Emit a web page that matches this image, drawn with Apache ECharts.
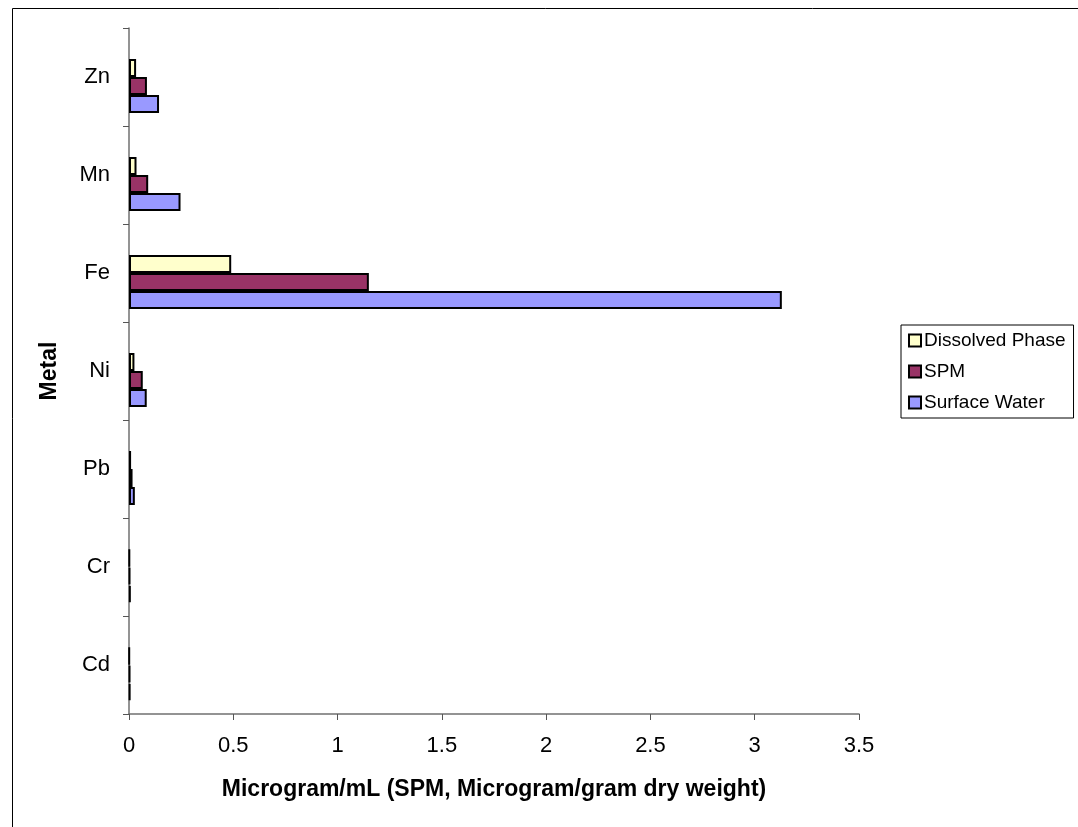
<!DOCTYPE html>
<html>
<head>
<meta charset="utf-8">
<script src="https://cdn.jsdelivr.net/npm/echarts@6/dist/echarts.min.js"></script>
<style>html,body{margin:0;padding:0;background:#fff;}#c{width:1078px;height:827px;}</style>
</head>
<body>
<div id="c"></div>
<script>
const categories = ['Cd', 'Cr', 'Pb', 'Ni', 'Fe', 'Mn', 'Zn'];
const dissolvedPhase = [0.002, 0.003, 0.010, 0.026, 0.490, 0.036, 0.034];
const spm = [0.005, 0.005, 0.017, 0.066, 1.150, 0.092, 0.086];
const surfaceWater = [0.006, 0.008, 0.028, 0.085, 3.130, 0.247, 0.144];
const xTicks = [0, 0.5, 1, 1.5, 2, 2.5, 3, 3.5];

const chart = echarts.init(document.getElementById('c'));
const font = 'Arial, "Liberation Sans", sans-serif';
const barStyle = (c) => ({ color: c, borderColor: '#000', borderWidth: 2 });
chart.setOption({
  animation: false,
  backgroundColor: '#fff',
  graphic: [{
    type: 'rect', left: 10, top: 6, shape: { width: 2000, height: 2000 },
    style: { fill: 'none', stroke: '#000', lineWidth: 1 }, silent: true
  }],
  grid: { left: 129, right: 219, top: 28, bottom: 113 },
  legend: {
    data: ['Dissolved Phase', 'SPM', 'Surface Water'],
    orient: 'vertical', left: 901, top: 325, width: 172,
    padding: [6, 8, 6, 7],
    itemGap: 12, itemWidth: 12, itemHeight: 12, icon: 'rect',
    borderColor: '#000', borderWidth: 1, backgroundColor: '#fff',
    textStyle: { fontFamily: font, fontSize: 19, color: '#000', padding: [0, 0, 0, -2] }
  },
  xAxis: {
    type: 'value', min: 0, max: 3.5, interval: 0.5,
    name: 'Microgram/mL (SPM, Microgram/gram dry weight)',
    nameLocation: 'middle', nameGap: 64,
    nameTextStyle: { fontFamily: font, fontSize: 23, fontWeight: 'bold', color: '#000' },
    axisLine: { show: true, lineStyle: { color: '#707070', width: 1.5 } },
    axisTick: { show: true, length: 6, lineStyle: { color: '#555' } },
    axisLabel: { fontFamily: font, fontSize: 22, color: '#000', margin: 21,
      formatter: (v) => xTicks.includes(v) ? String(v) : '' },
    splitLine: { show: false }
  },
  yAxis: {
    type: 'category', data: categories,
    name: 'Metal', nameLocation: 'middle', nameGap: 68, nameRotate: 90,
    nameTextStyle: { fontFamily: font, fontSize: 23, fontWeight: 'bold', color: '#000' },
    axisLine: { show: true, lineStyle: { color: '#707070', width: 1.5 } },
    axisTick: { show: true, length: 6, lineStyle: { color: '#555' } },
    axisLabel: { fontFamily: font, fontSize: 22, color: '#000', margin: 19 },
    splitLine: { show: false }
  },
  series: [
    { name: 'spacer', type: 'bar', data: [], barWidth: 18, barGap: '0%', silent: true, itemStyle: { color: 'transparent' } },
    { name: 'Dissolved Phase', type: 'bar', data: dissolvedPhase, barWidth: 18, barGap: '0%', itemStyle: barStyle('#FFFFCC') },
    { name: 'SPM', type: 'bar', data: spm, barWidth: 18, barGap: '0%', itemStyle: barStyle('#993366') },
    { name: 'Surface Water', type: 'bar', data: surfaceWater, barWidth: 18, barGap: '0%', itemStyle: barStyle('#9999FF') }
  ]
});
</script>
</body>
</html>
